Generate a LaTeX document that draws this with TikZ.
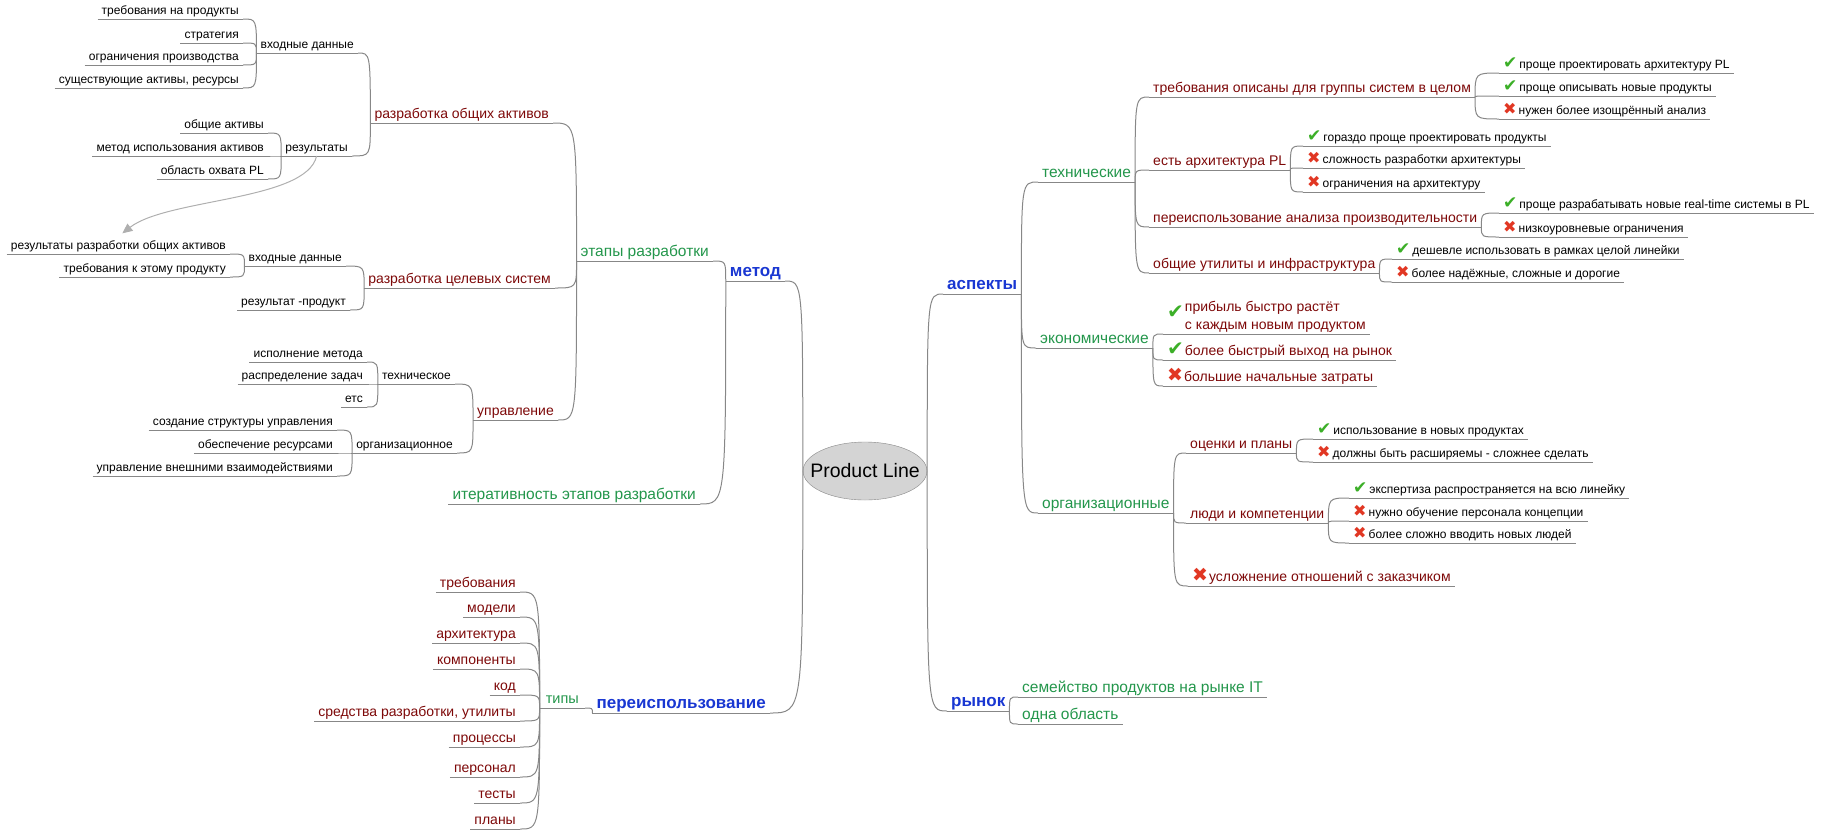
\documentclass[tikz,border=0pt]{standalone}
\usepackage{fontspec}
\setmainfont{Liberation Sans}
\newfontfamily\symfont{DejaVu Sans}
\usepackage{xcolor}
\usetikzlibrary{shapes.geometric,arrows.meta}

\definecolor{mapred}{RGB}{125,8,8}
\definecolor{mapgreen}{RGB}{35,150,75}
\definecolor{mapblue}{RGB}{25,55,210}
\definecolor{linegray}{RGB}{135,135,135}
\definecolor{arrowgray}{RGB}{175,175,175}
\definecolor{rootgray}{RGB}{212,212,212}
\definecolor{okgreen}{RGB}{60,175,40}
\definecolor{nored}{RGB}{225,55,35}

\newcommand\okmark{{\fontsize{17}{17}\symfont\color{okgreen}✔}\hspace{2pt}}
\newcommand\nomark{{\fontsize{16}{16}\symfont\color{nored}✖}\hspace{2pt}}
\newcommand\okbig{{\fontsize{20}{20}\symfont\color{okgreen}✔}\hspace{1pt}}
\newcommand\nobig{{\fontsize{19}{19}\symfont\color{nored}✖}\hspace{1pt}}

\tikzset{
  conn/.style={draw=linegray, line width=1pt},
  relarrow/.style={draw=arrowgray, line width=1pt, -{Triangle[length=10pt,width=9pt]}},
  uline/.style={inner xsep=4pt, inner ysep=1.5pt, text depth=2.5pt,
    append after command={(\tikzlastnode.south west) edge[conn] (\tikzlastnode.south east)}},
  mtopic/.style={uline, text=mapblue, font=\fontsize{17}{20}\selectfont\bfseries},
  msub/.style={uline, text=mapgreen, font=\fontsize{15.5}{19}\selectfont},
  mitem/.style={uline, text=mapred, font=\fontsize{14}{18.5}\selectfont},
  mleaf/.style={uline, text=black, font=\fontsize{12}{14}\selectfont},
  tol/.style={anchor=south east},
  tor/.style={anchor=south west},
  branch/.style={to path={.. controls (\tikztostart |- \tikztotarget) .. (\tikztotarget)}}
}

\begin{document}
\begin{tikzpicture}[x=1pt,y=-1pt]
\useasboundingbox (0,0) rectangle (1830,830);

\node[ellipse, draw=linegray, fill=rootgray, minimum width=124pt, minimum height=58pt, inner sep=0pt, font=\fontsize{19.5}{22}\selectfont] (root) at (865,471) {\makebox[0pt]{Product Line}};

% метод
\node[mtopic, tol] (metod) at (785,281) {метод};
\node[msub, tol] (etapy) at (713,261) {этапы разработки};
\node[msub, tol] (iter) at (700,504) {итеративность этапов разработки};
\node[mitem, tol] (razOA) at (553,123) {разработка общих активов};
\node[mleaf, tol] (vhod1) at (358,53) {входные данные};
\node[mleaf, tol] (v1a) at (243,19) {требования на продукты};
\node[mleaf, tol] (v1b) at (243,43) {стратегия};
\node[mleaf, tol] (v1c) at (243,65) {ограничения производства};
\node[mleaf, tol] (v1d) at (243,88) {существующие активы, ресурсы};
\node[mleaf, tol] (rez1) at (352,156) {результаты};
\node[mleaf, tol] (r1a) at (268,133) {общие активы};
\node[mleaf, tol] (r1b) at (268,156) {метод использования активов};
\node[mleaf, tol] (r1c) at (268,179) {область охвата PL};
\node[mitem, tol] (razCS) at (555,288) {разработка целевых систем};
\node[mleaf, tol] (vhod2) at (346,266) {входные данные};
\node[mleaf, tol] (v2a) at (230,254) {результаты разработки общих активов};
\node[mleaf, tol] (v2b) at (230,277) {требования к этому продукту};
\node[mleaf, tol] (rez2) at (350,310) {результат -продукт};
\node[mitem, tol] (upr) at (558,420) {управление};
\node[mleaf, tol] (utech) at (455,384) {техническое};
\node[mleaf, tol] (ut1) at (367,362) {исполнение метода};
\node[mleaf, tol] (ut2) at (367,384) {распределение задач};
\node[mleaf, tol] (ut3) at (367,407) {етс};
\node[mleaf, tol] (uorg) at (457,453) {организационное};
\node[mleaf, tol] (uo1) at (337,430) {создание структуры управления};
\node[mleaf, tol] (uo2) at (337,453) {обеспечение ресурсами};
\node[mleaf, tol] (uo3) at (337,476) {управление внешними взаимодействиями};

% переиспользование
\node[mtopic, tol] (reuse) at (770,713) {переиспользование};
\node[msub, tol, inner xsep=6pt, font=\fontsize{14.5}{18}\selectfont] (tipy) at (585,708) {типы};
\node[mitem, tol] (k1) at (520,592) {требования};
\node[mitem, tol] (k2) at (520,617) {модели};
\node[mitem, tol] (k3) at (520,643) {архитектура};
\node[mitem, tol] (k4) at (520,669) {компоненты};
\node[mitem, tol] (k5) at (520,695) {код};
\node[mitem, tol] (k6) at (520,721) {средства разработки, утилиты};
\node[mitem, tol] (k7) at (520,747) {процессы};
\node[mitem, tol] (k8) at (520,777) {персонал};
\node[mitem, tol] (k9) at (520,803) {тесты};
\node[mitem, tol] (k10) at (520,829) {планы};

% аспекты
\node[mtopic, tor] (asp) at (943,294) {аспекты};
\node[msub, tor] (tehn) at (1038,182) {технические};
\node[mitem, tor] (t1) at (1149,97) {требования описаны для группы систем в целом};
\node[mleaf, tor] (t1a) at (1499,73) {\okmark проще проектировать архитектуру PL};
\node[mleaf, tor] (t1b) at (1499,96) {\okmark проще описывать новые продукты};
\node[mleaf, tor] (t1c) at (1499,119) {\nomark нужен более изощрённый анализ};
\node[mitem, tor] (t2) at (1149,170) {есть архитектура PL};
\node[mleaf, tor] (t2a) at (1303,146) {\okmark гораздо проще проектировать продукты};
\node[mleaf, tor] (t2b) at (1303,168) {\nomark сложность разработки архитектуры};
\node[mleaf, tor] (t2c) at (1303,192) {\nomark ограничения на архитектуру};
\node[mitem, tor] (t3) at (1149,227) {переиспользование анализа производительности};
\node[mleaf, tor] (t3a) at (1499,213) {\okmark проще разрабатывать новые real-time системы в PL};
\node[mleaf, tor] (t3b) at (1499,237) {\nomark низкоуровневые ограничения};
\node[mitem, tor] (t4) at (1149,273) {общие утилиты и инфраструктура};
\node[mleaf, tor] (t4a) at (1392,259) {\okmark дешевле использовать в рамках целой линейки};
\node[mleaf, tor] (t4b) at (1392,282) {\nomark более надёжные, сложные и дорогие};
\node[msub, tor] (econ) at (1036,348) {экономические};
\node[mitem, tor] (e1) at (1163,334) {\raisebox{11pt}{\okbig}\begin{tabular}[b]{@{}l@{}}прибыль быстро растёт\\с каждым новым продуктом\end{tabular}};
\node[mitem, tor] (e2) at (1163,360) {\okbig более быстрый выход на рынок};
\node[mitem, tor] (e3) at (1163,386) {\nobig большие начальные затраты};
\node[msub, tor] (orgs) at (1038,513) {организационные};
\node[mitem, tor] (o1) at (1186,453) {оценки и планы};
\node[mleaf, tor] (o1a) at (1313,439) {\okmark использование в новых продуктах};
\node[mleaf, tor] (o1b) at (1313,462) {\nomark должны быть расширяемы - сложнее сделать};
\node[mitem, tor] (o2) at (1186,523) {люди и компетенции};
\node[mleaf, tor] (o2a) at (1349,498) {\okmark экспертиза распространяется на всю линейку};
\node[mleaf, tor] (o2b) at (1349,521) {\nomark нужно обучение персонала концепции};
\node[mleaf, tor] (o2c) at (1349,543) {\nomark более сложно вводить новых людей};
\node[mitem, tor] (o3) at (1188,586) {\nobig усложнение отношений с заказчиком};

% рынок
\node[mtopic, tor] (rynok) at (947,711) {рынок};
\node[msub, tor] (m1) at (1018,697) {семейство продуктов на рынке IT};
\node[msub, tor] (m2) at (1018,724) {одна область};

\draw[conn] (root.west) to[branch] (metod.south east);
\draw[conn] (root.west) to[branch] (reuse.south east);
\draw[conn] (root.east) to[branch] (asp.south west);
\draw[conn] (root.east) to[branch] (rynok.south west);

\draw[conn] (metod.south west) to[branch] (etapy.south east);
\draw[conn] (metod.south west) to[branch] (iter.south east);
\draw[conn] (etapy.south west) to[branch] (razOA.south east);
\draw[conn] (etapy.south west) to[branch] (razCS.south east);
\draw[conn] (etapy.south west) to[branch] (upr.south east);
\draw[conn] (razOA.south west) to[branch] (vhod1.south east);
\draw[conn] (razOA.south west) to[branch] (rez1.south east);
\draw[conn] (vhod1.south west) to[branch] (v1a.south east);
\draw[conn] (vhod1.south west) to[branch] (v1b.south east);
\draw[conn] (vhod1.south west) to[branch] (v1c.south east);
\draw[conn] (vhod1.south west) to[branch] (v1d.south east);
\draw[conn] (rez1.south west) to[branch] (r1a.south east);
\draw[conn] (rez1.south west) to[branch] (r1b.south east);
\draw[conn] (rez1.south west) to[branch] (r1c.south east);
\draw[conn] (razCS.south west) to[branch] (vhod2.south east);
\draw[conn] (razCS.south west) to[branch] (rez2.south east);
\draw[conn] (vhod2.south west) to[branch] (v2a.south east);
\draw[conn] (vhod2.south west) to[branch] (v2b.south east);
\draw[conn] (upr.south west) to[branch] (utech.south east);
\draw[conn] (upr.south west) to[branch] (uorg.south east);
\draw[conn] (utech.south west) to[branch] (ut1.south east);
\draw[conn] (utech.south west) to[branch] (ut2.south east);
\draw[conn] (utech.south west) to[branch] (ut3.south east);
\draw[conn] (uorg.south west) to[branch] (uo1.south east);
\draw[conn] (uorg.south west) to[branch] (uo2.south east);
\draw[conn] (uorg.south west) to[branch] (uo3.south east);
\draw[relarrow] (rez1.south) .. controls +(-10,45) and +(45,-35) .. ([xshift=4pt,yshift=6pt]v2a.north);

\draw[conn] (reuse.south west) to[branch] (tipy.south east);
\draw[conn] (tipy.south west) to[branch] (k1.south east);
\draw[conn] (tipy.south west) to[branch] (k2.south east);
\draw[conn] (tipy.south west) to[branch] (k3.south east);
\draw[conn] (tipy.south west) to[branch] (k4.south east);
\draw[conn] (tipy.south west) to[branch] (k5.south east);
\draw[conn] (tipy.south west) to[branch] (k6.south east);
\draw[conn] (tipy.south west) to[branch] (k7.south east);
\draw[conn] (tipy.south west) to[branch] (k8.south east);
\draw[conn] (tipy.south west) to[branch] (k9.south east);
\draw[conn] (tipy.south west) to[branch] (k10.south east);

\draw[conn] (asp.south east) to[branch] (tehn.south west);
\draw[conn] (asp.south east) to[branch] (econ.south west);
\draw[conn] (asp.south east) to[branch] (orgs.south west);
\draw[conn] (tehn.south east) to[branch] (t1.south west);
\draw[conn] (tehn.south east) to[branch] (t2.south west);
\draw[conn] (tehn.south east) to[branch] (t3.south west);
\draw[conn] (tehn.south east) to[branch] (t4.south west);
\draw[conn] (t1.south east) to[branch] (t1a.south west);
\draw[conn] (t1.south east) to[branch] (t1b.south west);
\draw[conn] (t1.south east) to[branch] (t1c.south west);
\draw[conn] (t2.south east) to[branch] (t2a.south west);
\draw[conn] (t2.south east) to[branch] (t2b.south west);
\draw[conn] (t2.south east) to[branch] (t2c.south west);
\draw[conn] (t3.south east) to[branch] (t3a.south west);
\draw[conn] (t3.south east) to[branch] (t3b.south west);
\draw[conn] (t4.south east) to[branch] (t4a.south west);
\draw[conn] (t4.south east) to[branch] (t4b.south west);
\draw[conn] (econ.south east) to[branch] (e1.south west);
\draw[conn] (econ.south east) to[branch] (e2.south west);
\draw[conn] (econ.south east) to[branch] (e3.south west);
\draw[conn] (orgs.south east) to[branch] (o1.south west);
\draw[conn] (orgs.south east) to[branch] (o2.south west);
\draw[conn] (orgs.south east) to[branch] (o3.south west);
\draw[conn] (o1.south east) to[branch] (o1a.south west);
\draw[conn] (o1.south east) to[branch] (o1b.south west);
\draw[conn] (o2.south east) to[branch] (o2a.south west);
\draw[conn] (o2.south east) to[branch] (o2b.south west);
\draw[conn] (o2.south east) to[branch] (o2c.south west);

\draw[conn] (rynok.south east) to[branch] (m1.south west);
\draw[conn] (rynok.south east) to[branch] (m2.south west);
\end{tikzpicture}
\end{document}
